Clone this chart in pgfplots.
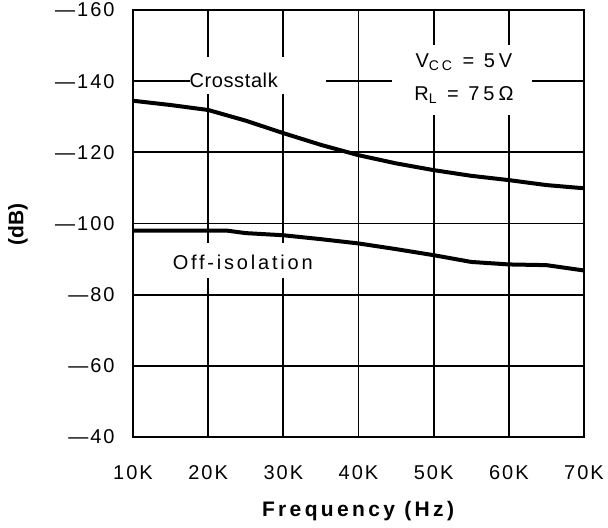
\documentclass[border=0pt]{standalone}
\usepackage{fontspec}
\setmainfont{Liberation Sans}
\usepackage{pgfplots}
\pgfplotsset{compat=1.18}
\usetikzlibrary{calc}
\begin{document}
\begin{tikzpicture}
\begin{axis}[
 scale only axis, width=225.5pt, height=213.5pt,
 xmin=10, xmax=70, ymin=40, ymax=160,
 xtick={10,20,...,70}, xticklabels={10K,20K,30K,40K,50K,60K,70K},
 ytick={40,60,...,160}, yticklabels={—40,—60,—80,—100,—120,—140,—160},
 grid=major, major grid style={black, line width=0.85pt},
 axis line style={line width=1pt},
 major tick length=0pt,
 tick label style={font=\fontsize{10}{12}\selectfont\addfontfeature{LetterSpace=10}},
 x tick label style={yshift=-10.7pt},
 y tick label style={xshift=-5.7pt},
 xlabel={Frequency (Hz)}, ylabel={(dB)},
 every axis x label/.style={at={(axis description cs:0.499,-0.173)}, anchor=center,
   font=\bfseries\fontsize{10.5}{12}\selectfont\addfontfeature{LetterSpace=16}},
 every axis y label/.style={at={(axis description cs:-0.255,0.497)}, anchor=center, rotate=90,
   font=\bfseries\fontsize{10.5}{12}\selectfont},
 clip=false,
]
\fill[white] (axis cs:17.58,136.4) rectangle (axis cs:35.68,146.8);
\node[font=\fontsize{10}{12}\selectfont\addfontfeature{LetterSpace=3}, inner sep=0pt] at (axis cs:23.4,140.3) {Crosstalk};
\fill[white] (axis cs:44.46,130.5) rectangle (axis cs:63.08,150.2);
\node[font=\fontsize{10}{16.5}\selectfont\addfontfeature{LetterSpace=20}, align=center, inner sep=0pt] at (axis cs:54.03,140.6) {V\textsubscript{CC} = 5V\\R\textsubscript{L} = 75Ω};
\fill[white] (axis cs:14.26,84.7) rectangle (axis cs:32.2,94.5);
\node[font=\fontsize{10}{12}\selectfont\addfontfeature{LetterSpace=14}, inner sep=0pt] at (axis cs:24.6,89.2) {Off-isolation};
\addplot[black, line width=2pt] coordinates {
 (10,134.5)(15,133.3)(20,131.9)(25,128.9)(30,125.4)(35,122.1)(40,119.2)
 (45,116.9)(50,115.0)(55,113.4)(60,112.2)(65,110.8)(70,109.9)};
\addplot[black, line width=2pt] coordinates {
 (10,98.0)(20,98.0)(22.5,98.0)(25,97.3)(30,96.7)(35,95.6)(40,94.4)
 (45,92.8)(50,91.1)(55,89.2)(60,88.5)(65,88.3)(70,86.8)};
\end{axis}
\pgfresetboundingbox
\path ($(current axis.south west)+(-66.5pt,-45pt)$) rectangle ++(304pt,263.5pt);
\end{tikzpicture}
\end{document}
